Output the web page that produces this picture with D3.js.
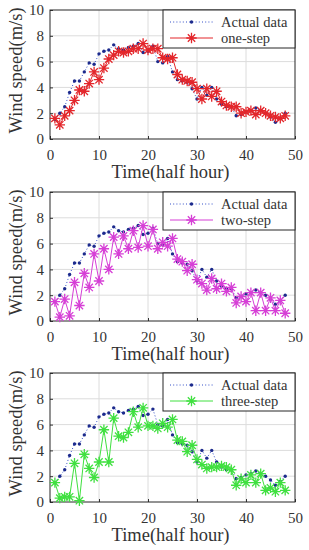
<!DOCTYPE html>
<html>
<head>
<meta charset="utf-8">
<script src="https://cdn.jsdelivr.net/npm/d3@7"></script>
<style>
body { margin: 0; background: #fff; }
svg text { font-family: "Liberation Serif", "Times New Roman", serif; fill: #333; }
</style>
</head>
<body>
<div id="chart"></div>
<script>
var W = 309, H = 550;

// half-hour index
var steps = d3.range(1, 49);

var actual = [1.5, 2.0, 2.5, 3.6, 4.5, 4.5, 5.2, 5.9, 5.8, 6.6, 6.8, 6.9, 7.3, 7.0, 6.9, 7.1,
  7.2, 7.4, 6.7, 6.8, 7.2, 6.0, 5.9, 6.4, 5.2, 4.6, 4.5, 4.4, 3.9, 3.1, 4.0, 3.4,
  4.0, 3.1, 2.7, 2.5, 2.5, 1.8, 1.9, 2.1, 2.2, 2.4, 2.2, 2.0, 1.7, 1.3, 1.6, 2.0];

var oneStep = [1.6, 1.1, 1.8, 2.2, 3.0, 3.8, 3.7, 4.3, 5.2, 4.6, 5.5, 6.2, 6.5, 6.8, 6.7, 6.8,
  7.0, 7.0, 7.4, 6.9, 7.0, 7.0, 6.3, 6.2, 6.3, 5.0, 4.6, 4.5, 4.4, 3.9, 3.1, 3.9,
  3.3, 3.7, 2.9, 2.6, 2.5, 2.5, 2.0, 2.1, 2.2, 1.9, 2.2, 2.0, 1.8, 1.7, 1.6, 1.8];

var twoStep = [1.5, 0.3, 1.7, 0.4, 3.0, 1.2, 3.7, 2.6, 5.2, 3.1, 5.6, 4.0, 6.5, 5.2, 6.6, 5.6,
  7.0, 5.7, 7.4, 5.8, 7.1, 5.6, 6.1, 5.8, 6.4, 4.8, 4.6, 3.9, 4.4, 3.2, 2.9, 2.4,
  3.3, 2.5, 2.9, 2.3, 2.6, 1.4, 1.9, 1.5, 2.2, 0.8, 2.2, 0.8, 1.8, 0.8, 1.6, 0.6];

var threeStep = [1.5, 0.3, 0.4, 0.4, 3.0, 0.1, 3.7, 2.6, 1.9, 3.1, 5.6, 3.1, 6.5, 5.1, 5.0, 5.4,
  7.0, 5.8, 7.3, 5.9, 5.9, 5.7, 6.1, 5.8, 6.4, 4.8, 4.7, 3.9, 4.4, 3.3, 2.9, 2.6,
  2.7, 2.7, 2.8, 2.7, 2.5, 1.3, 1.8, 1.5, 2.1, 1.5, 2.2, 0.9, 1.1, 0.8, 1.5, 0.9];

var seriesNames = ["one-step", "two-step", "three-step"];
var seriesColors = ["#e3262b", "#d63fd6", "#40e040"];
var seriesData = [oneStep, twoStep, threeStep];
var panelTops = [10, 192, 373];

var xTicks = [0, 10, 20, 30, 40, 50];
var yTicks = [0, 2, 4, 6, 8, 10];

var left = 50, pw = 245, ph = 129;

var svg = d3.select("#chart").append("svg")
  .attr("width", W)
  .attr("height", H);

function starPath(r) {
  var d = r * Math.SQRT1_2;
  return "M" + (-r) + ",0L" + r + ",0M0," + (-r) + "L0," + r +
    "M" + (-d) + "," + (-d) + "L" + d + "," + d +
    "M" + (-d) + "," + d + "L" + d + "," + (-d);
}

seriesNames.forEach(function(name, i) {
  var g = svg.append("g").attr("transform", "translate(" + left + "," + panelTops[i] + ")");
  var x = d3.scaleLinear().domain([0, 50]).range([0, pw]);
  var y = d3.scaleLinear().domain([0, 10]).range([ph, 0]);

  // grid
  g.append("g").selectAll("line.gx").data(xTicks.slice(1, -1)).enter().append("line")
    .attr("x1", function(d) { return x(d); }).attr("x2", function(d) { return x(d); })
    .attr("y1", 0).attr("y2", ph)
    .attr("stroke", "#dcdcdc").attr("stroke-width", 1);
  g.append("g").selectAll("line.gy").data(yTicks.slice(1, -1)).enter().append("line")
    .attr("y1", function(d) { return y(d); }).attr("y2", function(d) { return y(d); })
    .attr("x1", 0).attr("x2", pw)
    .attr("stroke", "#dcdcdc").attr("stroke-width", 1);

  // axes
  var xa = g.append("g").attr("transform", "translate(0," + ph + ")")
    .call(d3.axisBottom(x).tickValues(xTicks).tickSize(-3).tickPadding(7));
  var ya = g.append("g")
    .call(d3.axisLeft(y).tickValues(yTicks).tickSize(-3).tickPadding(6));
  [xa, ya].forEach(function(a) {
    a.select(".domain").remove();
    a.selectAll("line").attr("stroke", "#333");
    a.selectAll("text").style("font-size", "15px").attr("fill", "#333");
  });
  xa.selectAll("text").attr("dy", "0.9em");

  // frame
  g.append("rect").attr("width", pw).attr("height", ph)
    .attr("fill", "none").attr("stroke", "#262626").attr("stroke-width", 1);

  // actual data: dotted line with dots
  var line = d3.line()
    .x(function(d, k) { return x(steps[k]); })
    .y(function(d) { return y(d); });
  g.append("path").datum(actual).attr("d", line)
    .attr("fill", "none").attr("stroke", "#3550c8").attr("stroke-width", 1)
    .attr("stroke-dasharray", "1,2.2");
  g.append("g").selectAll("circle").data(actual).enter().append("circle")
    .attr("cx", function(d, k) { return x(steps[k]); })
    .attr("cy", function(d) { return y(d); })
    .attr("r", 1.7).attr("fill", "#1c2a8c");

  // prediction
  var pred = seriesData[i];
  g.append("path").datum(pred).attr("d", line)
    .attr("fill", "none").attr("stroke", seriesColors[i]).attr("stroke-width", 1);
  g.append("g").selectAll("path").data(pred).enter().append("path")
    .attr("transform", function(d, k) { return "translate(" + x(steps[k]) + "," + y(d) + ")"; })
    .attr("d", starPath(5.2))
    .attr("fill", "none").attr("stroke", seriesColors[i]).attr("stroke-width", 1.3);

  // axis titles
  g.append("text").attr("x", pw / 2 - 2).attr("y", ph + 39)
    .attr("text-anchor", "middle").style("font-size", "18.5px")
    .text("Time(half hour)");
  g.append("text")
    .attr("transform", "translate(-28," + (ph / 2 - 4) + ") rotate(-90)")
    .attr("text-anchor", "middle").style("font-size", "18.5px")
    .text("Wind speed(m/s)");

  // legend
  var lg = g.append("g").attr("transform", "translate(" + (pw - 132) + ",0)");
  lg.append("rect").attr("width", 132).attr("height", 38)
    .attr("fill", "#fff").attr("stroke", "#262626").attr("stroke-width", 1);
  lg.append("line").attr("x1", 7).attr("x2", 50).attr("y1", 12).attr("y2", 12)
    .attr("stroke", "#3550c8").attr("stroke-dasharray", "1,2.2");
  lg.append("circle").attr("cx", 28.5).attr("cy", 12).attr("r", 1.7).attr("fill", "#1c2a8c");
  lg.append("line").attr("x1", 7).attr("x2", 50).attr("y1", 28).attr("y2", 28)
    .attr("stroke", seriesColors[i]);
  lg.append("path").attr("transform", "translate(28.5,28)").attr("d", starPath(5.2))
    .attr("fill", "none").attr("stroke", seriesColors[i]).attr("stroke-width", 1.3);
  lg.append("text").attr("x", 58).attr("y", 17).style("font-size", "14.5px").text("Actual data");
  lg.append("text").attr("x", 58).attr("y", 33).style("font-size", "14.5px").text(name);
});
</script>
</body>
</html>
